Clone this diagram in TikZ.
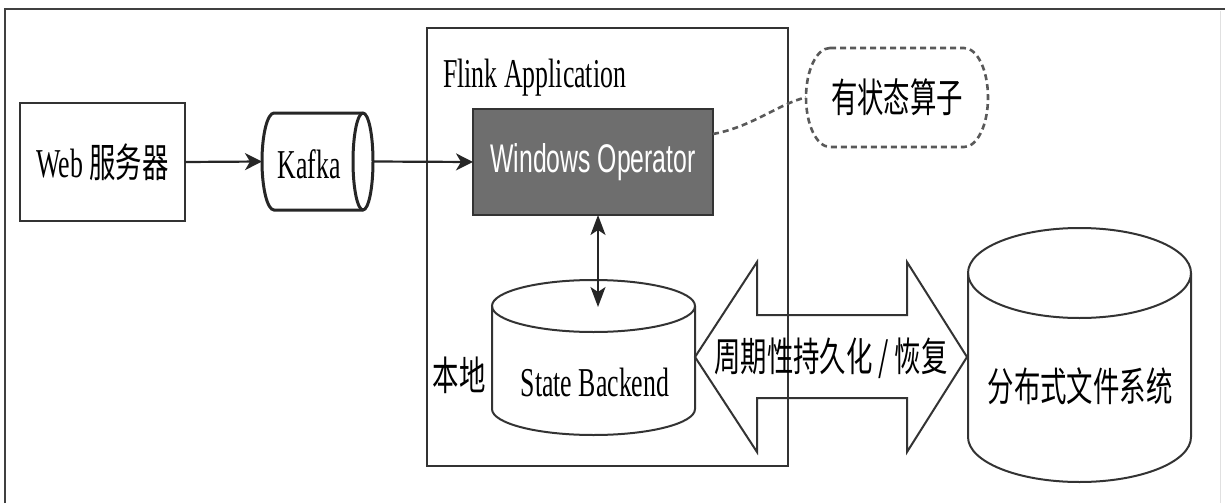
\documentclass[tikz,border=0pt]{standalone}
\usepackage{fontspec}
\setmainfont{Liberation Serif}[FakeStretch=0.63]
\newfontfamily\cjk{Noto Sans CJK SC}[FakeStretch=0.66]
\newfontfamily\arialf{Liberation Sans}[FakeStretch=0.62]
\usetikzlibrary{arrows.meta}
\tikzset{
  ln/.style={draw=black!80, line width=2pt},
  lat/.style={inner sep=0pt, font=\fontsize{41}{43}\selectfont},
  cjkt/.style={inner sep=0pt, font=\cjk\fontsize{40}{42}\selectfont},
  arr/.style={line width=2.2pt, draw=black!85, -{Stealth[length=17pt,width=17pt,inset=5pt]}},
  darr/.style={line width=2pt, draw=black!85, {Stealth[length=20pt,width=15pt,inset=5pt]}-{Stealth[length=20pt,width=15pt,inset=5pt]}},
  dashln/.style={draw=black!65, line width=2.6pt, dash pattern=on 6pt off 4pt},
  helper/.style={inner sep=0pt, outer sep=0pt}
}
\begin{document}
\begin{tikzpicture}[x=1pt,y=-1pt]
\path[fill=white,use as bounding box] (0,0) rectangle (1225,503);
% outer frame
\draw[line width=2.5pt, black!75] (5,503) -- (5,9) -- (1225,9);
\draw[line width=1pt, black!12] (1220,11) -- (1220,503);

% Flink application box
\node[ln, helper, minimum width=361pt, minimum height=438pt] (flink) at (607.5,247) {};
\node[lat, anchor=base west] (flinklbl) at (443,87) {Flink Application};

% Web server
\node[ln, line width=2.5pt, helper, minimum width=165pt, minimum height=118pt, lat] (web) at (102.5,162) {Web {\cjk\fontsize{40}{42}\selectfont 服务器}};

% Kafka cylinder (horizontal)
\node[helper, minimum width=111pt, minimum height=97pt] (kafka) at (317.5,161.5) {};
\draw[draw=black!85, line width=3pt, fill=white]
  (274,113) arc[start angle=90, end angle=270, x radius=12pt, y radius=48.5pt]
  -- (363,210) arc[start angle=270, end angle=450, x radius=10pt, y radius=48.5pt]
  -- cycle;
\draw[draw=black!85, line width=3pt]
  (363,113) arc[start angle=90, end angle=270, x radius=10pt, y radius=48.5pt];
\node[lat] (kafkatxt) at (309,164) {Kafka};

% Windows Operator
\node[draw=black!80, line width=2pt, fill=black!57, helper, minimum width=240pt, minimum height=106pt,
      text=white, font=\arialf\fontsize{40}{42}\selectfont] (wo) at (593,162) {Windows Operator};

% stateful operator callout
\node[helper, minimum width=182pt, minimum height=99pt] (stat) at (897,97.5) {};
\draw[dashln]
  (830,48) -- (964,48) arc[start angle=90, end angle=-90, x radius=24pt, y radius=49.5pt]
  -- (830,147) arc[start angle=270, end angle=90, x radius=24pt, y radius=49.5pt] -- cycle;
\node[cjkt] (stattxt) at (stat) {有状态算子};
\draw[dashln] ([yshift=28pt]wo.east) .. controls (752,127) and (780,103) .. (stat.west);

% State backend cylinder
\node[helper, minimum width=203pt, minimum height=155pt] (sb) at (593.5,357.5) {};
\draw[ln, fill=white]
  (492,306) -- (492,409) arc[start angle=180, end angle=360, x radius=101.5pt, y radius=26pt]
  -- (695,306);
\draw[ln] (593.5,306) ellipse[x radius=101.5pt, y radius=26pt];
\node[lat, anchor=base] (sbtxt) at (595,396) {State Backend};
\node[cjkt] (local) at (459,375) {本地};
\coordinate (sbtop) at (598,307);
\draw[darr] (wo.south -| sbtop) -- (sbtop);

% distributed file system cylinder
\node[helper, minimum width=223pt, minimum height=254pt] (dfs) at (1079.5,355) {};
\draw[ln]
  (968,273) -- (968,437) arc[start angle=180, end angle=360, x radius=111.5pt, y radius=45pt]
  -- (1191,273);
\draw[ln] (1079.5,273) ellipse[x radius=111.5pt, y radius=45pt];
\node[cjkt] (dfstxt) at (1080,386) {分布式文件系统};

% big double arrow
\coordinate (bl) at (695,357);
\coordinate (br) at (967,357);
\draw[ln, line join=miter]
  (bl) -- (757,262) -- (757,315) -- (907,315) -- (907,262) -- (br)
  -- (907,452) -- (907,398) -- (757,398) -- (757,452) -- cycle;
\node[cjkt] (persist) at (831,358) {周期性持久化 / 恢复};

% arrows
\draw[arr] (web.east) -- (kafka.west);
\draw[arr] (kafka.east) -- (wo.west);
\end{tikzpicture}
\end{document}
